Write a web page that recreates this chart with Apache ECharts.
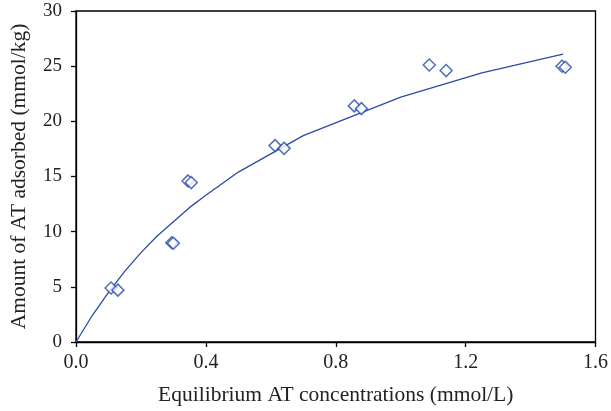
<!DOCTYPE html>
<html><head><meta charset="utf-8">
<script src="https://cdn.jsdelivr.net/npm/echarts@6/dist/echarts.min.js"></script>
<style>html,body{margin:0;padding:0;background:#fff}#c{width:611px;height:411px}</style>
</head><body><div id="c"></div>
<script>
var obsX = [0.108, 0.129, 0.295, 0.300, 0.345, 0.355, 0.613, 0.641, 0.857, 0.879, 1.088, 1.140, 1.497, 1.507];
var obsY = [4.9, 4.7, 9.0, 8.95, 14.6, 14.45, 17.8, 17.55, 21.4, 21.15, 25.1, 24.6, 25.0, 24.9];
var fitX = [0, 0.05, 0.1, 0.15, 0.2, 0.25, 0.3, 0.35, 0.4, 0.5, 0.7, 1.0, 1.25, 1.5];
var fitY = [0, 2.4, 4.5, 6.4, 8.1, 9.6, 10.9, 12.2, 13.3, 15.4, 18.7, 22.2, 24.4, 26.1];
var xTitle = 'Equilibrium AT concentrations (mmol/L)';
var yTitle = 'Amount of AT adsorbed (mmol/kg)';
var blue = '#2b4aa6';
var font = 'Liberation Serif';
function pairs(a, b){ return a.map(function(v,i){ return [v, b[i]]; }); }
var chart = echarts.init(document.getElementById('c'), null, {renderer:'canvas'});
chart.setOption({
  animation: false,
  grid: {left: 75, right: 11, top: 11, bottom: 69, show: true, borderColor: '#000', borderWidth: 1.3, backgroundColor: 'transparent'},
  xAxis: {
    type: 'value', min: 0, max: 1.6, interval: 0.4,
    name: xTitle, nameLocation: 'middle', nameGap: 42,
    nameTextStyle: {fontFamily: font, fontSize: 21.5, color: '#222'},
    axisLine: {show: true, onZero: false, lineStyle: {color: '#000', width: 1.3}},
    axisTick: {show: true, length: 5, lineStyle: {color: '#000', width: 1.3}},
    axisLabel: {fontFamily: font, fontSize: 20, color: '#222', margin: 11, formatter: function(v){ return v.toFixed(1); }},
    splitLine: {show: false}
  },
  yAxis: {
    type: 'value', min: 0, max: 30, interval: 5,
    name: yTitle, nameLocation: 'middle', nameGap: 46,
    nameTextStyle: {fontFamily: font, fontSize: 21.5, color: '#222'},
    axisLine: {show: true, lineStyle: {color: '#000', width: 1.3}},
    axisTick: {show: true, length: 5, lineStyle: {color: '#000', width: 1.3}},
    axisLabel: {fontFamily: font, fontSize: 19, color: '#222', margin: 14},
    splitLine: {show: false}
  },
  series: [
    {type: 'line', data: pairs(fitX, fitY), showSymbol: false, symbol: 'none',
     lineStyle: {color: blue, width: 1.3}, z: 2},
    {type: 'scatter', data: pairs(obsX, obsY), symbol: 'diamond', symbolSize: [12, 12],
     itemStyle: {color: '#fff', borderColor: blue, borderWidth: 1.5}, z: 3}
  ]
});
</script></body></html>
